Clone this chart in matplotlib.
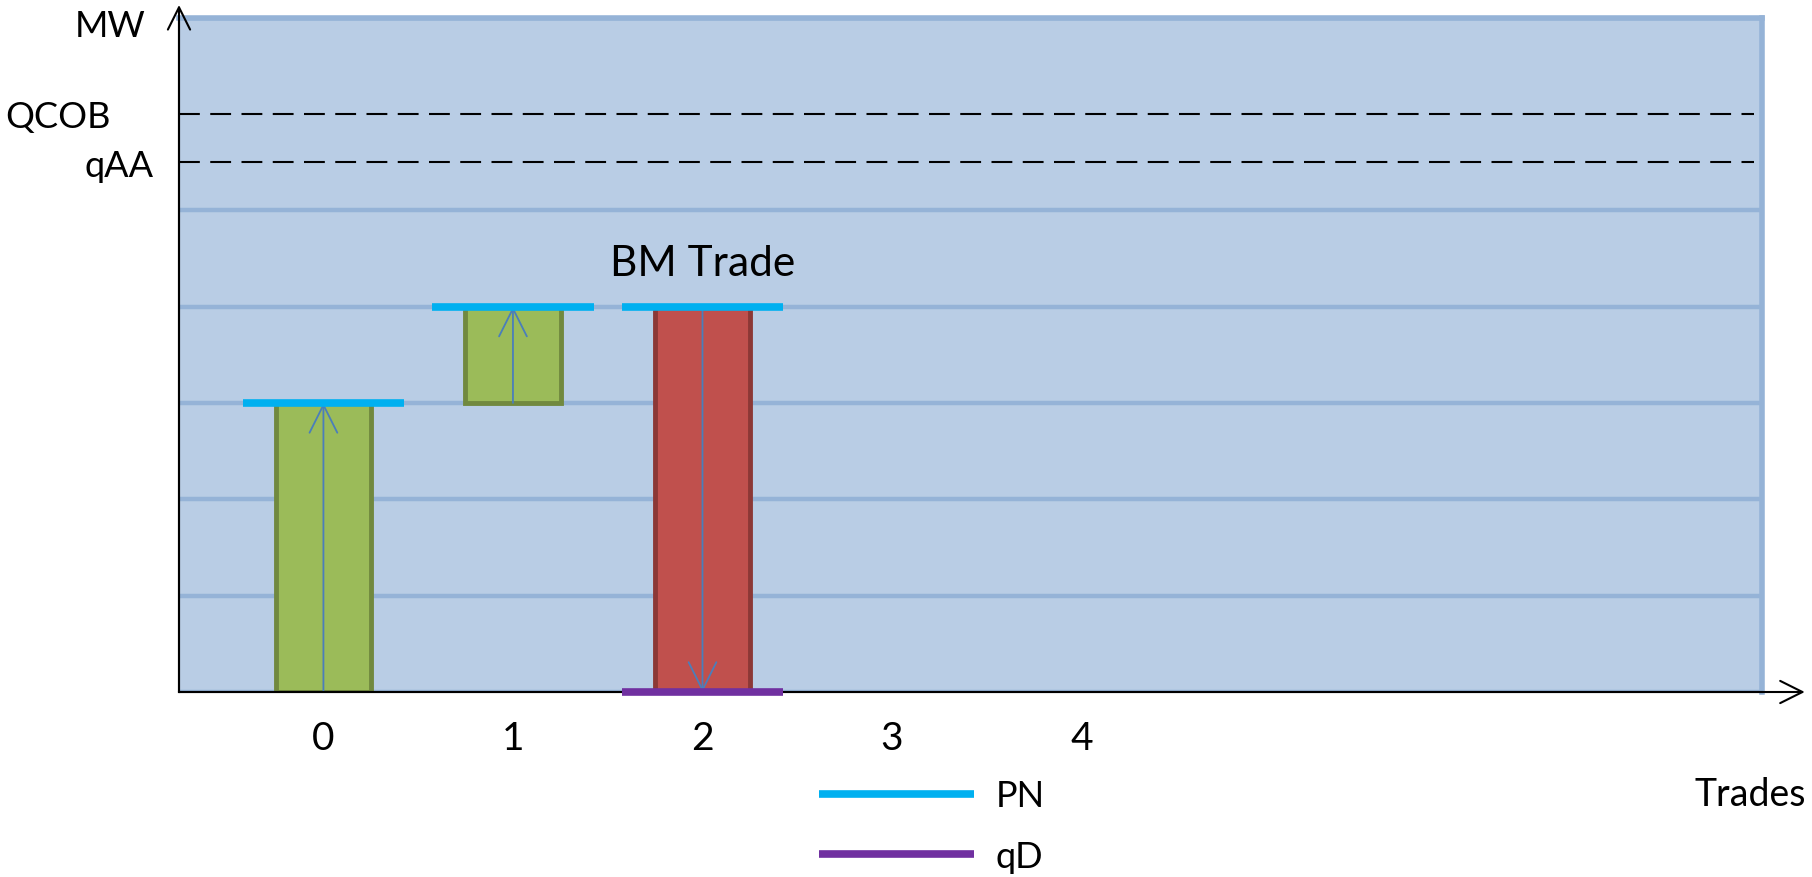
import matplotlib
matplotlib.use("Agg")
import matplotlib.pyplot as plt
from matplotlib.ticker import MultipleLocator

plt.rcParams['font.family'] = ['Lato', 'DejaVu Sans']

# data
trades = [0, 1, 2]
bar_bottom = [0, 3, 0]
bar_top = [3, 4, 4]
bar_colors = ['#9BBB59', '#9BBB59', '#C0504D']
bar_edges = ['#71893F', '#71893F', '#8C3836']
pn_levels = [3, 4, 4]
qd_trade = 2
qd_level = 0
qcob = 6
qaa = 5.5
mw_top = 7
xtick_pos = [0, 1, 2, 3, 4]
xtick_labels = ['0', '1', '2', '3', '4']
ytick_pos = [6.95, qcob, qaa]
ytick_labels = ['MW', 'QCOB', 'qAA']

fig = plt.figure(figsize=(18.12, 8.78), dpi=100)
ax = fig.add_axes([179 / 1812, 1 - 693 / 878, (1762 - 179) / 1812, (693 - 18.5) / 878])
ax.set_facecolor('#B9CDE5')
ax.set_xlim(-0.762, 7.59)
ax.set_ylim(0, mw_top)

# grid lines
ax.yaxis.set_minor_locator(MultipleLocator(1))
ax.grid(which='minor', axis='y', color='#95B3D7', lw=3.2, zorder=0)
ax.set_axisbelow(True)

# spines
for s in ['top', 'right']:
    ax.spines[s].set_color('#95B3D7')
    ax.spines[s].set_linewidth(4)
for s in ['left', 'bottom']:
    ax.spines[s].set_color('black')
    ax.spines[s].set_linewidth(1.5)

# bars
heights = [t - b for t, b in zip(bar_top, bar_bottom)]
ax.bar(trades, heights, bottom=bar_bottom, width=0.505, color=bar_colors,
       edgecolor=bar_edges, linewidth=3.5, zorder=2)

# arrows inside bars
for x, b, t in zip(trades, bar_bottom, bar_top):
    if x == qd_trade:
        start, end = t, qd_level
    else:
        start, end = b, t
    ax.annotate('', xy=(x, end), xytext=(x, start),
                arrowprops=dict(arrowstyle='->', color='#4A7EBB', lw=1.3,
                                shrinkA=0, shrinkB=0, mutation_scale=50), zorder=3)

# PN and qD lines
ax.hlines(pn_levels, [x - 0.425 for x in trades], [x + 0.425 for x in trades],
          color='#00B0F0', lw=5.5, zorder=4, label='PN')
ax.hlines([qd_level], [qd_trade - 0.425], [qd_trade + 0.425],
          color='#7030A0', lw=5.5, zorder=4, label='qD', clip_on=False)

# QCOB / qAA dashed lines
ax.hlines([qcob, qaa], -0.762, 7.55, color='black', lw=1.5,
          linestyles=(0, (10, 5)), zorder=3)

ax.text(2, 4.45, 'BM Trade', ha='center', va='center', fontsize=30.5)

# ticks
ax.set_xticks(xtick_pos)
ax.set_xticklabels(xtick_labels, fontsize=28)
ax.set_yticks(ytick_pos)
ax.set_yticklabels(ytick_labels, fontsize=26)
ax.tick_params(axis='x', length=0, pad=20)
ax.tick_params(axis='y', length=0, pad=24)
ax.tick_params(which='minor', length=0)
ylabs = ax.get_yticklabels()
ylabs[1].set_x(-35 / 1583)
ylabs[2].set_x(8 / 1583)

# axis arrows
ax.annotate('', xy=(0, 1.0185), xytext=(0, 0), xycoords='axes fraction',
            arrowprops=dict(arrowstyle='->', color='black', lw=1.5,
                            shrinkA=0, shrinkB=0, mutation_scale=40))
ax.annotate('', xy=(1.027, 0), xytext=(0, 0), xycoords='axes fraction',
            arrowprops=dict(arrowstyle='->', color='black', lw=1.5,
                            shrinkA=0, shrinkB=0, mutation_scale=40))

fig.text(1750 / 1812, 1 - 795 / 878, 'Trades', ha='center', va='center', fontsize=27)

ax.legend(loc='center left', bbox_to_anchor=(819 / 1812, 1 - 827 / 878),
          bbox_transform=fig.transFigure, frameon=False, fontsize=26,
          handlelength=4.3, handletextpad=0.6, labelspacing=0.75,
          borderpad=0, borderaxespad=0)

fig.savefig('out.png', dpi=100)
